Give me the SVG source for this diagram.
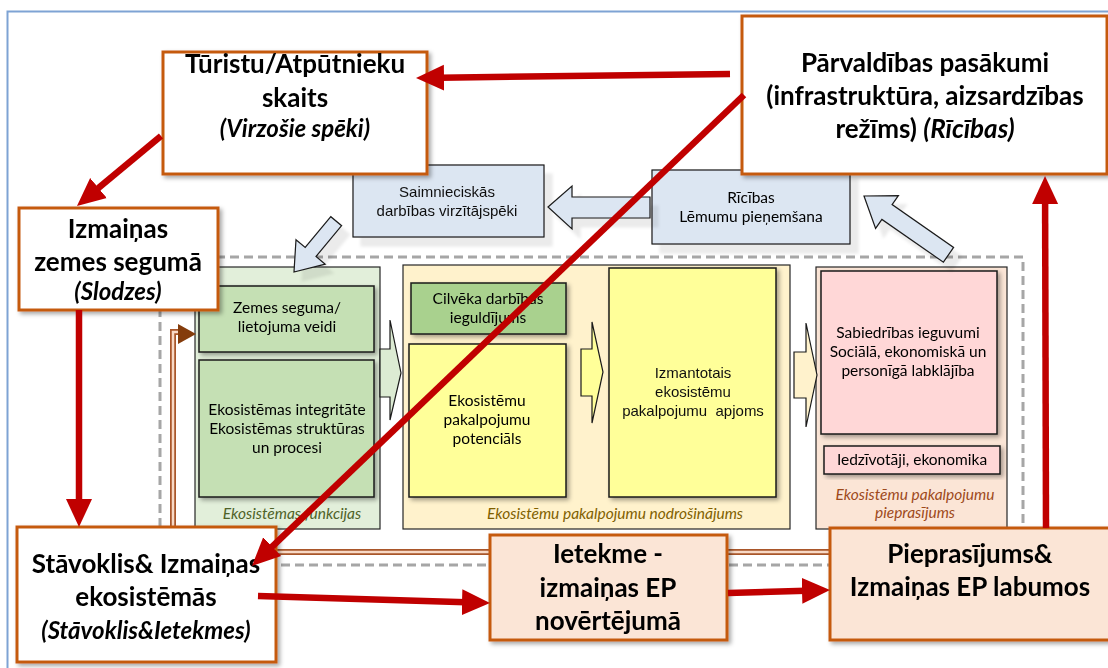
<svg xmlns="http://www.w3.org/2000/svg" width="1108" height="668" viewBox="0 0 1108 668">
<defs>
<style>
.big{font-family:Lato,"Liberation Sans",sans-serif;font-weight:bold;font-size:26px;fill:#000;text-anchor:middle}
.bigi{font-style:italic;font-size:24px}
.sm{font-family:Lato,"Liberation Sans",sans-serif;font-size:15.5px;fill:#000;text-anchor:middle}
.ar{font-family:"Liberation Sans",Arial,sans-serif;font-size:15px;fill:#111;text-anchor:middle}
.cap{font-family:Lato,"Liberation Sans",sans-serif;font-style:italic;font-size:15.5px;text-anchor:middle}
.obox{fill:#fff;stroke:#c55a11;stroke-width:3}
.pbox{fill:#fbe5d6;stroke:#c55a11;stroke-width:3}
.cont{stroke:#262626;stroke-width:1.2}
.inb{stroke:#1a1a1a;stroke-width:1.5}
.blue{fill:#dce6f2;stroke:#1a1a1a;stroke-width:1.2}
.red{fill:none;stroke:#c00000;stroke-width:6.5;marker-end:url(#rh)}
</style>
<marker id="rh" markerUnits="userSpaceOnUse" markerWidth="28" markerHeight="28" viewBox="0 0 28 28" refX="4" refY="14" orient="auto"><path d="M0,1 L28,14 L0,27 z" fill="#c00000"/></marker>
<filter id="sh" x="-10%" y="-10%" width="130%" height="130%"><feDropShadow dx="2.5" dy="2.5" stdDeviation="2" flood-color="#000" flood-opacity="0.35"/></filter>
<filter id="soft" x="-10%" y="-10%" width="140%" height="140%"><feOffset in="SourceAlpha" dx="8" dy="9" result="o"/><feGaussianBlur in="o" stdDeviation="1.5" result="b"/><feFlood flood-color="#000" flood-opacity="0.08"/><feComposite in2="b" operator="in" result="s"/><feMerge><feMergeNode in="s"/><feMergeNode in="SourceGraphic"/></feMerge></filter>
</defs>
<rect width="1108" height="668" fill="#fff"/>
<path d="M7.5,668 V11.5 H1108" fill="none" stroke="#7ea3d4" stroke-width="2"/>
<rect x="160" y="257" width="863" height="308" fill="none" stroke="#a6a6a6" stroke-width="3" stroke-dasharray="9 5"/>

<g id="funkcijas">
<rect class="cont" x="195" y="267" width="185" height="262" fill="#e2efda"/>
<text class="cap" x="292" y="519" fill="#4f6228">Ekosistēmas funkcijas</text>
</g>
<g id="zemes-seguma" filter="url(#sh)">
<rect class="inb" x="199" y="286" width="175" height="66" fill="#c5e0b4"/>
<text class="sm" x="287" y="313">Zemes seguma/</text>
<text class="sm" x="287" y="332">lietojuma veidi</text>
</g>
<g id="integritate" filter="url(#sh)">
<rect class="inb" x="199" y="360" width="175" height="137" fill="#c5e0b4"/>
<text class="sm" x="287" y="415">Ekosistēmas integritāte</text>
<text class="sm" x="287" y="434">Ekosistēmas struktūras</text>
<text class="sm" x="287" y="453">un procesi</text>
</g>

<g id="nodrosinajums">
<rect class="cont" x="403" y="265" width="387" height="264" fill="#fff2cc"/>
<text class="cap" x="615" y="519" fill="#7f6000">Ekosistēmu pakalpojumu nodrošinājums</text>
</g>
<g id="cilveka" filter="url(#sh)">
<rect class="inb" x="411" y="283" width="155" height="51" fill="#a9d18e"/>
<text class="sm" x="488" y="304">Cilvēka darbības</text>
<text class="sm" x="488" y="323">ieguldījums</text>
</g>
<g id="potencials" filter="url(#sh)">
<rect class="inb" x="409" y="344" width="157" height="153" fill="#ffff99"/>
<text class="sm" x="487" y="406">Ekosistēmu</text>
<text class="sm" x="487" y="425">pakalpojumu</text>
<text class="sm" x="487" y="444">potenciāls</text>
</g>
<g id="izmantotais" filter="url(#sh)">
<rect class="inb" x="609" y="268" width="167" height="229" fill="#ffff99"/>
<text class="ar" x="693" y="378">Izmantotais</text>
<text class="ar" x="693" y="397">ekosistēmu</text>
<text class="ar" x="693" y="416" xml:space="preserve">pakalpojumu  apjoms</text>
</g>

<g id="pieprasijums-cont">
<rect class="cont" x="816" y="267" width="191" height="262" fill="#fbe5d6"/>
<text class="cap" x="915" y="500" fill="#9e4a1c">Ekosistēmu pakalpojumu</text>
<text class="cap" x="915" y="518" fill="#9e4a1c">pieprasījums</text>
</g>
<g id="sabiedribas" filter="url(#sh)">
<rect class="inb" x="821" y="271" width="176" height="163" fill="#ffd7d7"/>
<text class="sm" x="908" y="338">Sabiedrības ieguvumi</text>
<text class="sm" x="908" y="357">Sociālā, ekonomiskā un</text>
<text class="sm" x="908" y="376">personīgā labklājība</text>
</g>
<g id="iedzivotaji" filter="url(#sh)">
<rect class="inb" x="824" y="446" width="176" height="28" fill="#ffd7d7"/>
<text class="sm" x="912" y="465">Iedzīvotāji, ekonomika</text>
</g>

<g id="saimnieciskas" filter="url(#soft)">
<rect class="blue" x="353" y="165" width="191" height="72"/>
<text class="ar" x="447" y="197">Saimnieciskās</text>
<text class="ar" x="447" y="216">darbības virzītājspēki</text>
</g>
<g id="ricibas" filter="url(#soft)">
<rect class="blue" x="652" y="170" width="198" height="74"/>
<text class="sm" x="751" y="203" fill="#404040">Rīcības</text>
<text class="sm" x="751" y="222" fill="#404040">Lēmumu pieņemšana</text>
</g>

<g id="connectors-under">
<path d="M830,552 H173 V332 H182" fill="none" stroke="#a9562a" stroke-width="6"/>
<path d="M830,552 H173 V332 H182" fill="none" stroke="#f8d9c6" stroke-width="2.5"/>
<polygon points="178,324 196,334 178,344" fill="#843c0c"/>
<g filter="url(#soft)">
<polygon class="blue" points="548,207 572,186 572,197 650,197 650,218 572,218 572,229"/>
<polygon class="blue" points="294,272 325.2,264.2 316,256.5 341.6,225.7 330.8,216.7 305.2,247.5 296,239.8"/>
<polygon class="blue" points="864,196 898.4,195.6 892.1,204.6 953.6,247.4 943.4,262.2 881.9,219.4 875.6,228.4"/>
</g>
<polygon points="380,349 390,349 390,320 401,373 390,420 390,397 380,397" fill="#dcebd3" stroke="#1a1a1a" stroke-width="1.2"/>
<polygon points="581,349 592,349 592,322 603,372 592,423 592,396 581,396" fill="#ffff99" stroke="#1a1a1a" stroke-width="1.2"/>
<polygon points="794,352 806,352 806,323 817,375 806,427 806,398 794,398" fill="#fff2cc" stroke="#1a1a1a" stroke-width="1.2"/>
</g>

<g id="turistu" filter="url(#sh)">
<rect class="obox" x="163" y="52" width="264" height="122"/>
<text class="big" x="295" y="73">Tūristu/Atpūtnieku</text>
<text class="big" x="295" y="107">skaits</text>
<text class="big bigi" x="295" y="137">(Virzošie spēki)</text>
</g>
<g id="izmainas-zemes" filter="url(#sh)">
<rect class="obox" x="19" y="208" width="199" height="102"/>
<text class="big" x="118" y="238">Izmaiņas</text>
<text class="big" x="118" y="271">zemes segumā</text>
<text class="big bigi" x="118" y="300">(Slodzes)</text>
</g>
<g id="parvaldibas" filter="url(#sh)">
<rect class="obox" x="742" y="16" width="365" height="158"/>
<text class="big" x="925" y="72">Pārvaldības pasākumi</text>
<text class="big" x="925" y="105">(infrastruktūra, aizsardzības</text>
<text class="big" x="925" y="138">režīms) <tspan font-style="italic">(Rīcības)</tspan></text>
</g>
<g id="stavoklis" filter="url(#sh)">
<rect class="obox" x="17" y="527" width="259" height="135"/>
<text class="big" x="146" y="573">Stāvoklis&amp; Izmaiņas</text>
<text class="big" x="146" y="606">ekosistēmās</text>
<text class="big bigi" x="146" y="639">(Stāvoklis&amp;Ietekmes)</text>
</g>
<g id="ietekme" filter="url(#sh)">
<rect class="pbox" x="490" y="535" width="237" height="105"/>
<text class="big" x="608" y="563">Ietekme -</text>
<text class="big" x="608" y="597">izmaiņas EP</text>
<text class="big" x="608" y="630">novērtējumā</text>
</g>
<g id="pieprasijums" filter="url(#sh)">
<rect class="pbox" x="830" y="528" width="282" height="112"/>
<text class="big" x="970" y="563">Pieprasījums&amp;</text>
<text class="big" x="970" y="596">Izmaiņas EP labumos</text>
</g>

<g id="connectors">
<line class="red" x1="730" y1="74" x2="440" y2="77.7"/>
<line class="red" x1="161" y1="136" x2="95.4" y2="190.6"/>
<line class="red" x1="79" y1="310" x2="79" y2="503"/>
<line class="red" x1="744" y1="95" x2="269.3" y2="549.4"/>
<line class="red" x1="258" y1="596" x2="466" y2="602.3"/>
<line class="red" x1="728" y1="593" x2="806" y2="590.7"/>
<line class="red" x1="1046" y1="528" x2="1045.1" y2="200"/>
</g>
</svg>
